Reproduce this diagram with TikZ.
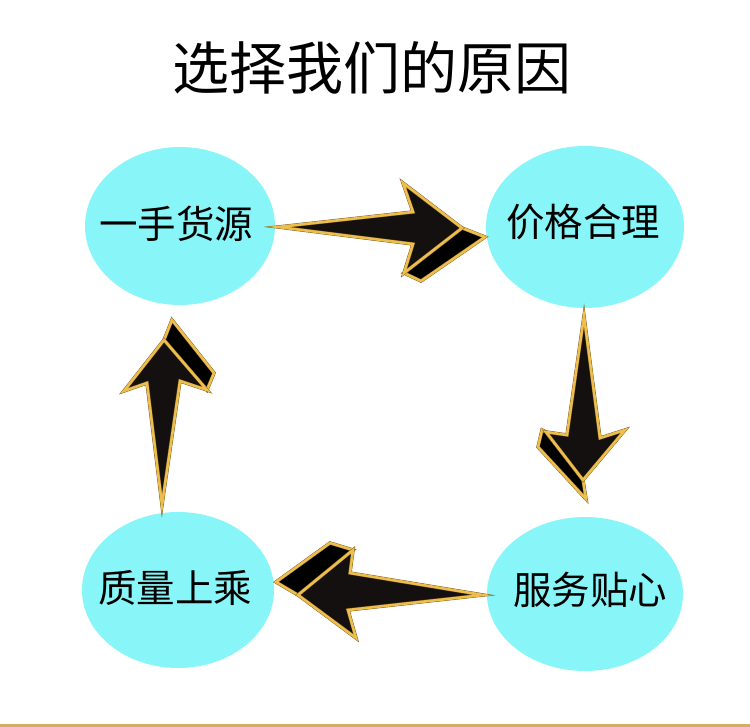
\documentclass[tikz,border=0pt]{standalone}
\usepackage{fontspec}
\newfontfamily\cjk{Noto Sans CJK SC}
\begin{document}
\begin{tikzpicture}[x=1pt,y=-1pt,
  bubble/.style={fill=bubblecyan, draw=none},
  lbl/.style={font=\cjk\fontsize{38.5}{40}\selectfont, text=black, inner sep=0pt},
  arrface/.style={fill=arrblack, draw=arrdark, double=arrgold, double distance=2.6pt, line width=0.4pt, line join=miter},
  arrside/.style={fill=black, draw=arrdark, double=arrgold, double distance=2.6pt, line width=0.4pt, line join=miter}]
\definecolor{bubblecyan}{HTML}{88F6F8}
\definecolor{arrgold}{HTML}{EBBE4E}
\definecolor{arrdark}{HTML}{7A5618}
\definecolor{arrblack}{HTML}{141010}
\definecolor{linegold}{HTML}{D4AE64}
\useasboundingbox (0,0) rectangle (750,727);
\fill[white] (0,0) rectangle (750,727);
% title
\node[font=\cjk\fontsize{57}{60}\selectfont, inner sep=0pt] (title) at (372,68) {选择我们的原因};
% bubbles
\path[bubble] (180,226) ellipse [x radius=95, y radius=79];
\path[bubble] (585,227) ellipse [x radius=99, y radius=81];
\path[bubble] (178,590) ellipse [x radius=96, y radius=78];
\path[bubble] (585,594) ellipse [x radius=98, y radius=77];
\node[lbl] (a) at (176,224) {一手货源};
\node[lbl] (b) at (583,222) {价格合理};
\node[lbl] (c) at (590,590) {服务贴心};
\node[lbl] (d) at (175,588) {质量上乘};
% right arrow
\path[arrside] (462,228) -- (485,237) -- (421,281) -- (404,273) -- cycle;
\path[arrface] (278,227) -- (413,212) -- (403,183) -- (462,228) -- (404,273) -- (413,244) -- cycle;
% down arrow
\path[arrside] (546,432) -- (583,480) -- (586,499) -- (538,447) -- (542,430) -- cycle;
\path[arrface] (584,316) -- (600,438) -- (625,430) -- (583,480) -- (546,432) -- (567,435) -- cycle;
% left arrow
\path[arrside] (353,550) -- (330,543) -- (276,582) -- (298,595) -- cycle;
\path[arrface] (483,595) -- (350,573) -- (353,550) -- (298,595) -- (356,638) -- (348,610) -- cycle;
% up arrow
\path[arrside] (164,340) -- (172,320) -- (214,373) -- (207,390) -- cycle;
\path[arrface] (162,505) -- (147,383) -- (124,391) -- (164,340) -- (207,390) -- (180,381) -- cycle;
% bottom line
\fill[linegold] (0,724) rectangle (750,727);
\end{tikzpicture}
\end{document}
